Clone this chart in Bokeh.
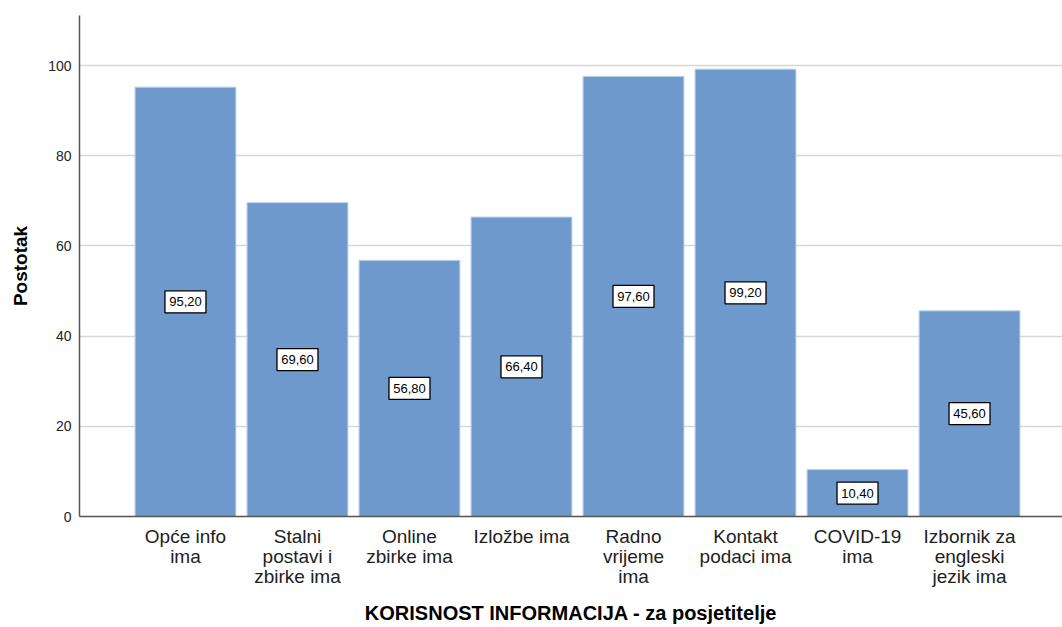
from bokeh.plotting import figure
from bokeh.models import ColumnDataSource, FixedTicker, Range1d
from bokeh.core.properties import value
from bokeh.embed import file_html
from bokeh.resources import INLINE

categories = ["Opće info\nima", "Stalni\npostavi i\nzbirke ima", "Online\nzbirke ima",
              "Izložbe ima", "Radno\nvrijeme\nima", "Kontakt\npodaci ima",
              "COVID-19\nima", "Izbornik za\nengleski\njezik ima"]
values = [95.20, 69.60, 56.80, 66.40, 97.60, 99.20, 10.40, 45.60]
y_ticks = [0, 20, 40, 60, 80, 100]

xs = list(range(len(categories)))
labels = [f"{v:.2f}".replace(".", ",") for v in values]
src = ColumnDataSource(dict(x=xs, top=values, mid=[v / 2 for v in values], lab=labels))

p = figure(width=1062, height=627, output_backend="svg", toolbar_location=None,
           x_range=Range1d(-0.946, 7.83), y_range=Range1d(0, 111.1))
p.min_border_left = 79
p.min_border_top = 15
p.min_border_right = 0
p.min_border_bottom = 111
p.outline_line_color = None
p.background_fill_color = "white"

p.vbar(x="x", top="top", width=0.9, source=src, fill_color="#6d99cc",
       line_color="#b8cfe8", line_width=1)

p.rect(x="x", y="mid", width=41, height=22, width_units="screen", height_units="screen",
       source=src, fill_color="white", line_color="black", line_width=1.3)
p.text(x="x", y="mid", text="lab", source=src, text_align="center",
       text_baseline="middle", text_font=value("Liberation Sans"), text_font_size="13px",
       text_color="black")

p.xgrid.grid_line_color = None
p.ygrid.grid_line_color = "#d6d6d6"
p.ygrid.grid_line_width = 1.5
p.ygrid.ticker = FixedTicker(ticks=y_ticks)

p.xaxis.ticker = FixedTicker(ticks=xs)
p.xaxis.major_label_overrides = {i: c for i, c in enumerate(categories)}
p.xaxis.major_label_text_font = "Liberation Sans"
p.xaxis.major_label_text_font_size = "19px"
p.xaxis.major_label_text_line_height = 0.97
p.xaxis.major_label_text_color = "#222222"
p.xaxis.major_label_standoff = 9
p.xaxis.major_tick_line_color = None
p.xaxis.major_tick_out = 0
p.xaxis.major_tick_in = 0
p.xaxis.minor_tick_line_color = None
p.xaxis.axis_line_color = "#555555"
p.xaxis.axis_line_width = 1.5
p.xaxis.axis_label = "KORISNOST INFORMACIJA - za posjetitelje"
p.xaxis.axis_label_text_font = "Liberation Sans"
p.xaxis.axis_label_text_font_size = "20px"
p.xaxis.axis_label_text_line_height = 1.0
p.xaxis.axis_label_text_font_style = "bold"
p.xaxis.axis_label_text_color = "black"
p.xaxis.axis_label_standoff = 12

p.yaxis.ticker = FixedTicker(ticks=y_ticks)
p.yaxis.major_label_text_font = "Liberation Sans"
p.yaxis.major_label_text_font_size = "14px"
p.yaxis.major_label_text_color = "#222222"
p.yaxis.major_tick_line_color = None
p.yaxis.major_tick_out = 0
p.yaxis.major_tick_in = 0
p.yaxis.minor_tick_line_color = None
p.yaxis.major_label_standoff = 8
p.yaxis.axis_line_color = "#555555"
p.yaxis.axis_line_width = 1.5
p.yaxis.axis_label = "Postotak"
p.yaxis.axis_label_text_font = "Liberation Sans"
p.yaxis.axis_label_text_font_size = "19px"
p.yaxis.axis_label_text_font_style = "bold"
p.yaxis.axis_label_text_color = "black"
p.yaxis.axis_label_standoff = 14

open("out.html", "w").write(file_html(p, INLINE))
